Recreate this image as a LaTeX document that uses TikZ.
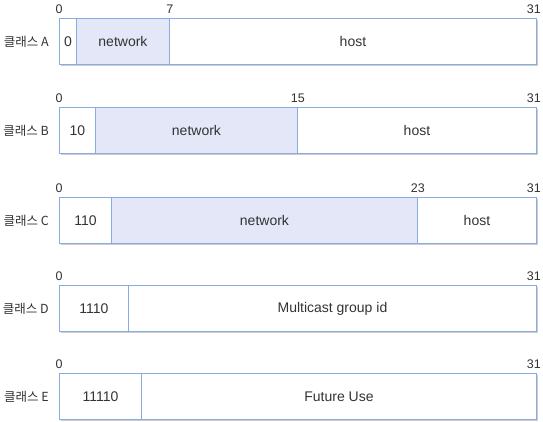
\documentclass[tikz,border=0pt]{standalone}
\usepackage{fontspec}
\setmainfont{Liberation Sans}
\newfontfamily\krfont{Noto Sans CJK KR}
\usetikzlibrary{positioning, shadows}
\definecolor{fieldline}{HTML}{89ABE4}
\definecolor{netfill}{HTML}{E3E7F8}
\definecolor{textgray}{HTML}{333333}

\begin{document}
\begin{tikzpicture}[
            x=1pt, y=-1pt,
            frame/.style={rectangle, draw=fieldline, line width=0.9pt, fill=white, minimum height=46pt, minimum width=477pt, inner sep=0pt, anchor=north west, drop shadow={shadow xshift=1.3pt, shadow yshift=-1.3pt, fill=black!40}},
            field/.style={rectangle, draw=fieldline, line width=0.9pt, fill=white, minimum height=46pt, inner sep=0pt, anchor=north west, font=\fontsize{14}{16}\selectfont, text=textgray},
            netfield/.style={field, fill=netfill},
            bitno/.style={font=\fontsize{12.5}{14}\selectfont, text=textgray, inner sep=0pt},
            rowlabel/.style={anchor=east, font=\krfont\fontsize{12.5}{14}\selectfont, text=textgray, inner sep=0pt}
        ]
\useasboundingbox (0,0) rectangle (543,422);

% Row frames
            \foreach \r/\top in {A/18, B/107, C/197, D/285, E/373}
                \node[frame] (row\r) at (59,\top) {};

% Class A
            \node[field, minimum width=17pt] (a0) at (59,18) {0};
            \node[netfield, minimum width=93pt] (anet) at (76,18) {network};
            \node[field, minimum width=367pt] (ahost) at (169,18) {host};

% Class B
            \node[field, minimum width=36pt] (b0) at (59,107) {10};
            \node[netfield, minimum width=202pt] (bnet) at (95,107) {network};
            \node[field, minimum width=239pt] (bhost) at (297,107) {host};

% Class C
            \node[field, minimum width=52pt] (c0) at (59,197) {110};
            \node[netfield, minimum width=306pt] (cnet) at (111,197) {network};
            \node[field, minimum width=119pt] (chost) at (417,197) {host};

% Class D
            \node[field, minimum width=69pt] (d0) at (59,285) {1110};
            \node[field, minimum width=408pt] (dgroup) at (128,285) {Multicast group id};

% Class E
            \node[field, minimum width=82pt] (e0) at (59,373) {11110};
            \node[field, minimum width=395pt] (efuture) at (141,373) {Future Use};

% Row labels
            \node[rowlabel, left=10pt of a0.west] (alabel) {클래스 A};
            \node[rowlabel, left=10pt of b0.west] (blabel) {클래스 B};
            \node[rowlabel, left=10pt of c0.west] (clabel) {클래스 C};
            \node[rowlabel, left=10pt of d0.west] (dlabel) {클래스 D};
            \node[rowlabel, left=10pt of e0.west] (elabel) {클래스 E};

% Bit numbers
            \node[bitno, above=4pt of a0.north west] (abit0) {0};
            \node[bitno, above=4pt of anet.north east] (abit7) {7};
            \node[bitno, above=4pt of ahost.north east, xshift=-3pt] (abit31) {31};
            \node[bitno, above=4pt of b0.north west] (bbit0) {0};
            \node[bitno, above=4pt of bnet.north east] (bbit15) {15};
            \node[bitno, above=4pt of bhost.north east, xshift=-3pt] (bbit31) {31};
            \node[bitno, above=4pt of c0.north west] (cbit0) {0};
            \node[bitno, above=4pt of cnet.north east] (cbit23) {23};
            \node[bitno, above=4pt of chost.north east, xshift=-3pt] (cbit31) {31};
            \node[bitno, above=4pt of d0.north west] (dbit0) {0};
            \node[bitno, above=4pt of dgroup.north east, xshift=-3pt] (dbit31) {31};
            \node[bitno, above=4pt of e0.north west] (ebit0) {0};
            \node[bitno, above=4pt of efuture.north east, xshift=-3pt] (ebit31) {31};

        \end{tikzpicture}
\end{document}
